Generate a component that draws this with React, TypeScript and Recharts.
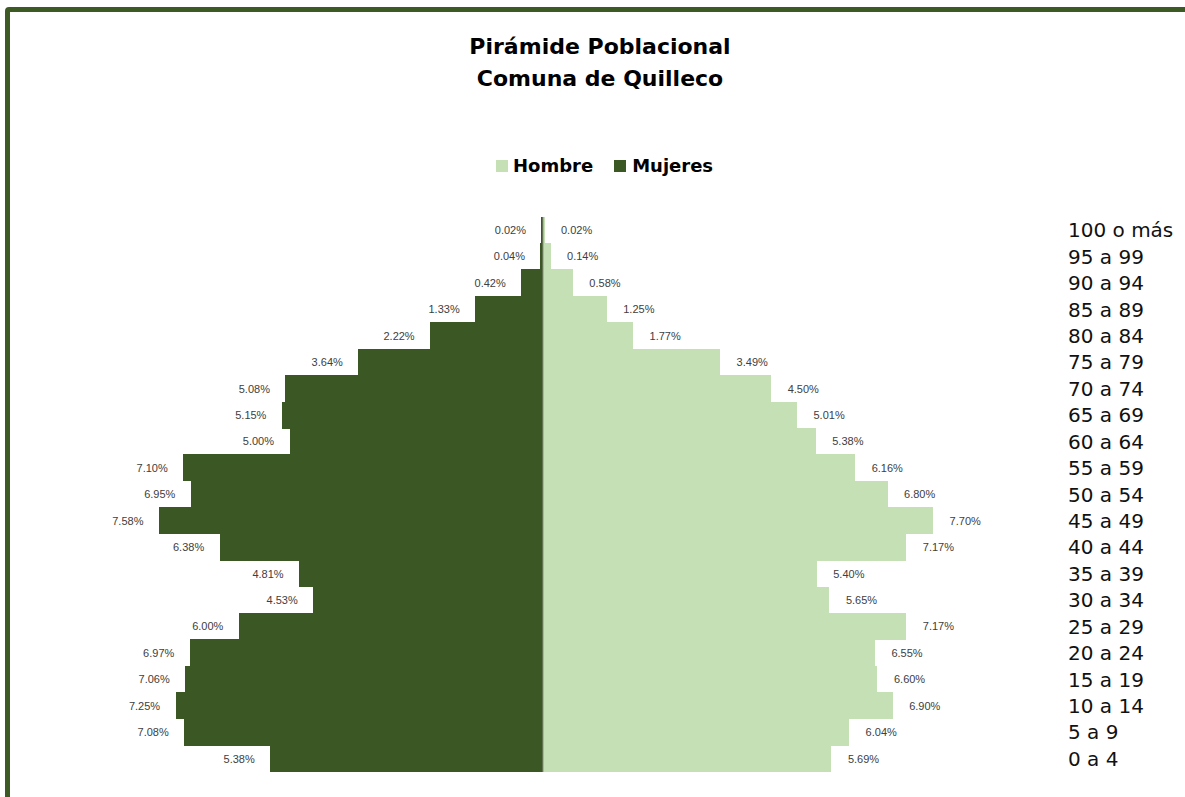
import { Bar, BarChart, LabelList, ReferenceLine, XAxis, YAxis } from 'recharts'

const ageGroups = [
  '100 o más', '95 a 99', '90 a 94', '85 a 89', '80 a 84', '75 a 79', '70 a 74',
  '65 a 69', '60 a 64', '55 a 59', '50 a 54', '45 a 49', '40 a 44', '35 a 39',
  '30 a 34', '25 a 29', '20 a 24', '15 a 19', '10 a 14', '5 a 9', '0 a 4',
]

const hombre = [
  0.02, 0.14, 0.58, 1.25, 1.77, 3.49, 4.5, 5.01, 5.38, 6.16, 6.8, 7.7, 7.17, 5.4,
  5.65, 7.17, 6.55, 6.6, 6.9, 6.04, 5.69,
]

const mujeres = [
  0.02, 0.04, 0.42, 1.33, 2.22, 3.64, 5.08, 5.15, 5.0, 7.1, 6.95, 7.58, 6.38, 4.81,
  4.53, 6.0, 6.97, 7.06, 7.25, 7.08, 5.38,
]

const xDomain = [-10, 10]

const COLORS = {
  hombre: '#c5e0b4',
  mujeres: '#3a5724',
  frame: '#3d5a25',
  axis: '#8a9181',
}

const chartData = ageGroups.map((group, i) => ({
  group,
  hombre: hombre[i],
  mujeres: -mujeres[i],
}))

const fmt = (v: number) => `${Math.abs(v).toFixed(2)}%`

const SideLabel = (side: 'left' | 'right') => (props: any) => {
  const { x, y, width, height, value } = props
  const x0 = Math.min(x, x + width)
  const x1 = Math.max(x, x + width)
  const tx = side === 'left' ? x0 - 16 : x1 + 17
  return (
    <text
      x={tx}
      y={y + height / 2}
      dy={4}
      textAnchor={side === 'left' ? 'end' : 'start'}
      fontSize={11}
      fill="#404040"
      fontFamily="Liberation Sans, sans-serif"
    >
      {fmt(value)}
    </text>
  )
}

const AgeTick = (props: any) => {
  const { x, y, payload } = props
  return (
    <text x={x + 11} y={y} dy={7} textAnchor="start" fontSize={20} fill="#111" fontFamily="DejaVu Sans, sans-serif">
      {payload.value}
    </text>
  )
}

export default function App() {
  return (
    <div
      style={{
        position: 'fixed',
        left: 0,
        top: 0,
        width: 1185,
        height: 797,
        overflow: 'hidden',
        background: '#fff',
        fontFamily: 'DejaVu Sans, sans-serif',
      }}
    >
      <div
        style={{
          position: 'absolute',
          left: 5,
          top: 7,
          width: 1300,
          height: 900,
          border: `5px solid ${COLORS.frame}`,
          borderRadius: 4,
        }}
      />
      <div
        style={{
          position: 'absolute',
          left: 0,
          width: 1200,
          top: 31,
          textAlign: 'center',
          fontWeight: 700,
          fontSize: 22,
          lineHeight: '32px',
          color: '#000',
        }}
      >
        Pirámide Poblacional
        <br />
        Comuna de Quilleco
      </div>
      <div
        style={{
          position: 'absolute',
          left: 496,
          top: 155,
          display: 'flex',
          alignItems: 'center',
          fontWeight: 700,
          fontSize: 18,
          color: '#000',
        }}
      >
        <span style={{ width: 12, height: 12, background: COLORS.hombre, marginRight: 5 }} />
        <span style={{ marginRight: 21 }}>Hombre</span>
        <span style={{ width: 12, height: 12, background: COLORS.mujeres, marginRight: 6 }} />
        <span>Mujeres</span>
      </div>
      <div style={{ position: 'absolute', left: 0, top: 0 }}>
        <BarChart
          width={1185}
          height={797}
          data={chartData}
          layout="vertical"
          stackOffset="sign"
          barCategoryGap={0}
          margin={{ top: 217, right: 0, bottom: 25, left: 37 }}
        >
          <XAxis type="number" domain={xDomain} hide />
          <YAxis
            type="category"
            dataKey="group"
            orientation="right"
            width={136}
            axisLine={false}
            tickLine={false}
            interval={0}
            tick={<AgeTick />}
          />
          <Bar
            dataKey="mujeres"
            stackId="a"
            fill={COLORS.mujeres}
            stroke={COLORS.mujeres}
            strokeWidth={1}
            shapeRendering="crispEdges"
            isAnimationActive={false}
          >
            <LabelList dataKey="mujeres" content={SideLabel('left')} />
          </Bar>
          <Bar
            dataKey="hombre"
            stackId="a"
            fill={COLORS.hombre}
            stroke={COLORS.hombre}
            strokeWidth={1}
            shapeRendering="crispEdges"
            isAnimationActive={false}
          >
            <LabelList dataKey="hombre" content={SideLabel('right')} />
          </Bar>
          <ReferenceLine x={0} stroke={COLORS.axis} strokeWidth={1} />
        </BarChart>
      </div>
    </div>
  )
}
